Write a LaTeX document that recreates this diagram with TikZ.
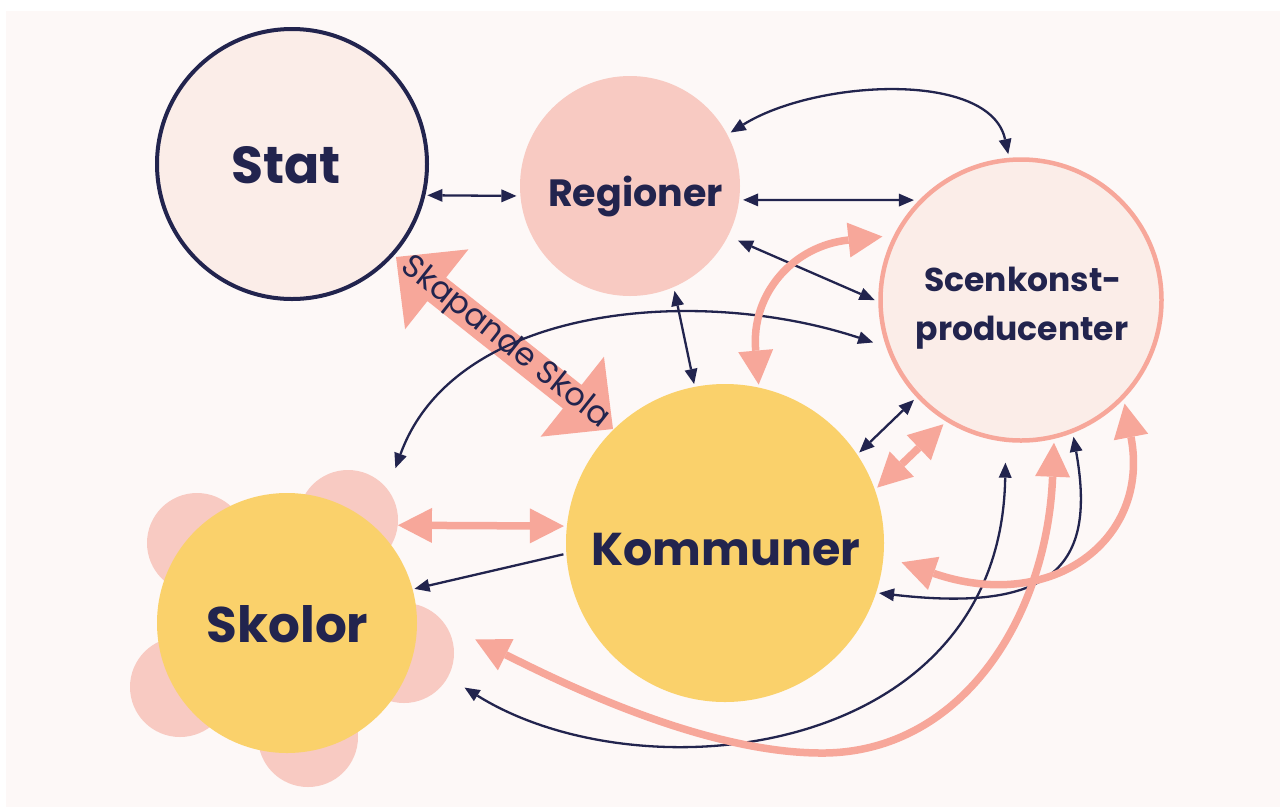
\documentclass[tikz,border=0pt]{standalone}
\usepackage{fontspec}
\setmainfont{Poppins}
\usetikzlibrary{arrows.meta}
\definecolor{navy}{HTML}{22244E}
\definecolor{sunyellow}{HTML}{FAD16B}
\definecolor{rosefill}{HTML}{F8CAC2}
\definecolor{salmon}{HTML}{F7A79A}
\definecolor{palefill}{HTML}{FBEDE8}
\definecolor{bgpink}{HTML}{FDF8F7}
\tikzset{
  navytip/.tip={Triangle[length=15pt,width=13pt,line width=0pt]},
  pinktip/.tip={Triangle[length=34pt,width=35pt,line width=0pt]},
  nv/.style={draw=navy, line width=2.3pt, arrows={navytip-navytip}},
  nvone/.style={draw=navy, line width=2.3pt, arrows={-navytip}},
  pk/.style={draw=salmon, line width=7.5pt, arrows={pinktip-pinktip}},
  disc/.style={circle, inner sep=0pt, minimum size=#1},
  lbl/.style={text=navy, inner sep=0pt, anchor=base},
}
\begin{document}
\begin{tikzpicture}[x=1pt,y=-1pt]
\useasboundingbox (0,0) rectangle (1280,807);
\fill[white] (0,0) rectangle (1280,807);
\fill[bgpink] (6,11) rectangle (1280,807);

% Skapande Skola big arrow
\fill[salmon] (396,257) -- (405.07,329.27) -- (427.43,301.06) -- (562.93,408.46)
  -- (540.57,436.67) -- (613,429) -- (603.93,356.73) -- (581.57,384.94)
  -- (446.07,277.54) -- (468.43,249.33) -- cycle;

% petals
\node[disc=100pt, fill=rosefill] (p1) at (197,543) {};
\node[disc=100pt, fill=rosefill] (p2) at (348,520) {};
\node[disc=100pt, fill=rosefill] (p3) at (404,653) {};
\node[disc=100pt, fill=rosefill] (p4) at (308,737) {};
\node[disc=100pt, fill=rosefill] (p5) at (180,687) {};

% main circles
\node[disc=270pt, fill=palefill, draw=navy, line width=4pt, outer sep=4pt] (stat) at (292,164) {};
\node[disc=220pt, fill=rosefill, outer sep=4pt] (reg) at (630,186) {};
\node[disc=281pt, fill=palefill, draw=salmon, line width=4.5pt, outer sep=6pt] (scen) at (1021,300) {};
\node[disc=318pt, fill=sunyellow, outer sep=3pt] (kom) at (725,543) {};
\node[disc=260pt, fill=sunyellow, outer sep=2pt] (skol) at (287,623) {};
\node[disc=378pt, outer sep=0pt] (skolf) at (287,623) {};
\coordinate (wp1) at (819,753);

% navy connectors
\draw[nv] (stat.-13.2) -- (reg.-175);
\draw[nv] (reg.-7.06) -- (scen.137.1);
\draw[nv] (reg.28.8) .. controls +(85,-53) and +(-18,-84) .. (scen.95.2);
\draw[nv, shorten <=7pt] (reg.-27.4) -- (scen.180);
\draw[nv] (reg.-67.6) -- (kom.101.7);
\draw[nv] (kom.34.3) -- (scen.-137.7);
\draw[nv, shorten >=9pt] (skolf.55.1) .. controls +(60,-165) and +(-181,-60) .. (scen.-162.5);
\draw[nvone] (kom.-176.4) -- (skol.15.3);
\draw[nv] (scen.-69.2) .. controls +(22,123) and +(181,21) .. (kom.-18.2);
\draw[nv, shorten >=17pt] (skolf.-20.6) .. controls +(176,110) and +(-5,314) .. (scen.-96.3);

% pink connectors
\draw[pk] (kom.20.2) -- (scen.-122.7);
\draw[pk] (p2.-6.8) -- (kom.174.1);
\draw[pk, shorten >=7pt] (kom.78.3) .. controls +(-8,-91) and +(-96,10) .. (scen.154.3);
\draw[pk, shorten >=16pt] (scen.-45.3) .. controls +(26,136) and +(166,57) .. (kom.-5.5);
\draw[pk] (scen.-77.9) .. controls +(-7,176) and +(141,2) .. (wp1)
  .. controls +(-119,-1) and +(80,40) .. (skolf.-5.2);

% labels
\node[text=navy, rotate=-38.4, inner sep=0pt, font=\fontsize{32}{38}\selectfont] (skap) at (505,343) {Skapande Skola};
\node[lbl, font=\fontsize{52}{60}\selectfont\bfseries] (statt) at (286,183) {Stat};
\node[lbl, font=\fontsize{38}{44}\selectfont\bfseries] (regt) at (635.5,206) {Regioner};
\node[lbl, font=\fontsize{33}{40}\selectfont\bfseries] (scent1) at (1023,291) {Scenkonst-};
\node[lbl, font=\fontsize{33}{40}\selectfont\bfseries] (scent2) at (1022,340) {producenter};
\node[lbl, font=\fontsize{46}{54}\selectfont\bfseries] (komt) at (726,565) {Kommuner};
\node[lbl, font=\fontsize{50}{58}\selectfont\bfseries] (skolt) at (287.5,642) {Skolor};
\end{tikzpicture}
\end{document}
